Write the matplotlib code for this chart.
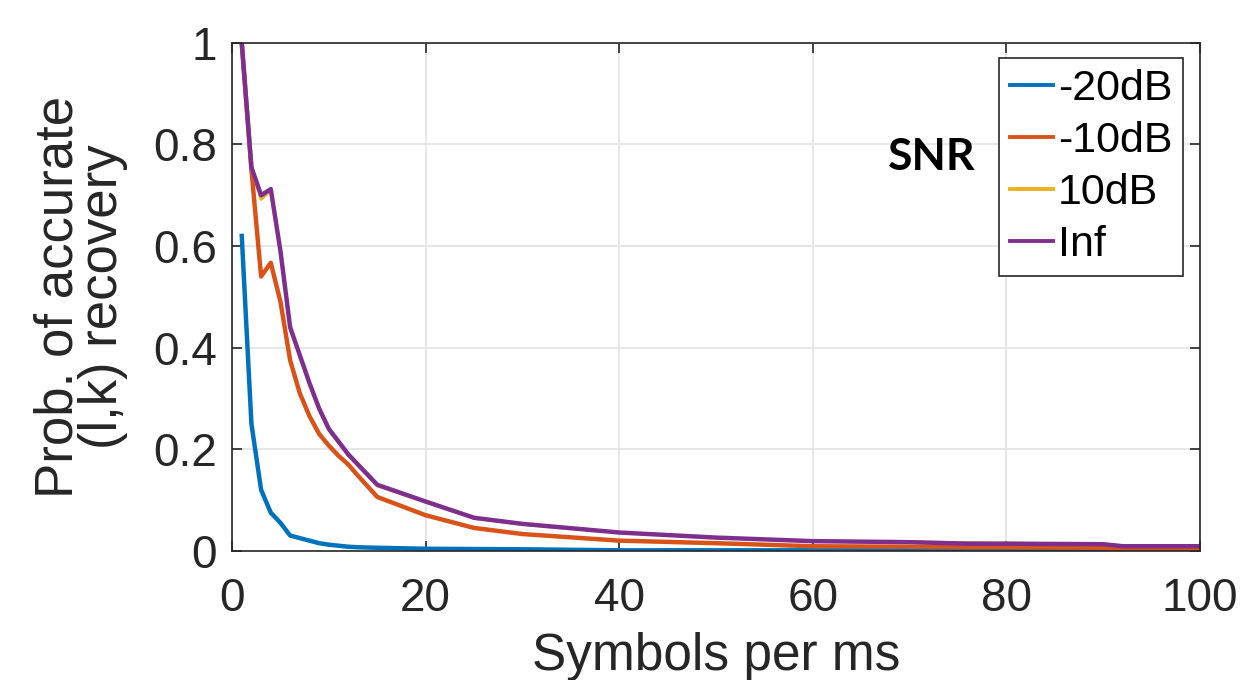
import matplotlib.pyplot as plt

# symbols per ms
x_vals = [1, 2, 3, 4, 5, 6, 7, 8, 9, 10, 11, 12, 13, 14, 15, 20, 25, 30, 40,
          50, 60, 70, 76, 80, 90, 92, 100]

# probability of accurate (l,k) recovery for each SNR
snr_m20 = [0.62, 0.25, 0.12, 0.075, 0.055, 0.03, 0.025, 0.02, 0.015, 0.012,
           0.01, 0.008, 0.007, 0.0065, 0.006, 0.004, 0.0035, 0.003, 0.001,
           0.001, 0.001, 0.001, 0.001, 0.001, 0.001, 0.001, 0.001]
snr_m10 = [1.0, 0.75, 0.54, 0.567, 0.49, 0.375, 0.31, 0.265, 0.23, 0.207,
           0.187, 0.17, 0.148, 0.127, 0.106, 0.07, 0.045, 0.033, 0.02,
           0.015, 0.009, 0.008, 0.007, 0.007, 0.006, 0.003, 0.003]
snr_p10 = [1.0, 0.752, 0.692, 0.71, 0.588, 0.438, 0.383, 0.328, 0.278, 0.238,
           0.213, 0.188, 0.168, 0.148, 0.128, 0.096, 0.064, 0.052, 0.036,
           0.026, 0.019, 0.017, 0.016, 0.015, 0.013, 0.010, 0.009]
snr_inf = [1.0, 0.755, 0.70, 0.712, 0.59, 0.44, 0.385, 0.33, 0.28, 0.24,
           0.215, 0.19, 0.17, 0.15, 0.13, 0.097, 0.065, 0.053, 0.036,
           0.026, 0.019, 0.017, 0.014, 0.014, 0.013, 0.009, 0.009]

labels = ['-20dB', '-10dB', '10dB', 'Inf']
colors = ['#0072BD', '#D95319', '#EDB120', '#7E2F8E']

plt.rcParams['font.family'] = ['Liberation Sans', 'DejaVu Sans']

fig = plt.figure(figsize=(12.41, 6.8), dpi=100)
ax = fig.add_axes([0.187, 0.19, 0.78, 0.747])

series = [snr_m20, snr_m10, snr_p10, snr_inf]
widths = [3.2, 3.2, 2.2, 3.2]
for ys, lab, c, lw in zip(series, labels, colors, widths):
    ax.plot(x_vals, ys, color=c, lw=lw, label=lab)

ax.set_xlim(0, 100)
ax.set_ylim(0, 1)
ax.set_xticks([0, 20, 40, 60, 80, 100])
ax.set_yticks([0, 0.2, 0.4, 0.6, 0.8, 1])
ax.set_yticklabels(['0', '0.2', '0.4', '0.6', '0.8', '1'])
ax.grid(True, color='#E3E3E3', lw=1.2)
ax.set_axisbelow(True)
ax.tick_params(direction='in', length=7, width=1.2, labelsize=33,
               top=True, right=True, colors='#262626', labelcolor='#262626')
ax.tick_params(axis='x', pad=19)
ax.tick_params(axis='y', pad=11)
for s in ax.spines.values():
    s.set_color('#262626')
    s.set_linewidth(1.2)

ax.set_xlabel('Symbols per ms', fontsize=37, color='#262626', labelpad=8)
ax.set_ylabel('Prob. of accurate\n(l,k) recovery', fontsize=38,
              color='#262626', labelpad=18, linespacing=0.85)

leg = ax.legend(loc='upper right', bbox_to_anchor=(1183 / 1241, 622 / 680),
                bbox_transform=fig.transFigure, borderaxespad=0,
                fontsize=31, handlelength=1.0, handletextpad=0.12,
                labelspacing=0.28, borderpad=0.25, fancybox=False,
                framealpha=1, edgecolor='#262626')
leg.get_frame().set_linewidth(1.2)
for h in leg.get_lines():
    h.set_linewidth(2.8)

fig.text(888 / 1241, 1 - 157 / 680, 'SNR', fontsize=32, fontweight='bold',
         family='Lato', va='center', ha='left')

fig.savefig('out.png', dpi=100)
